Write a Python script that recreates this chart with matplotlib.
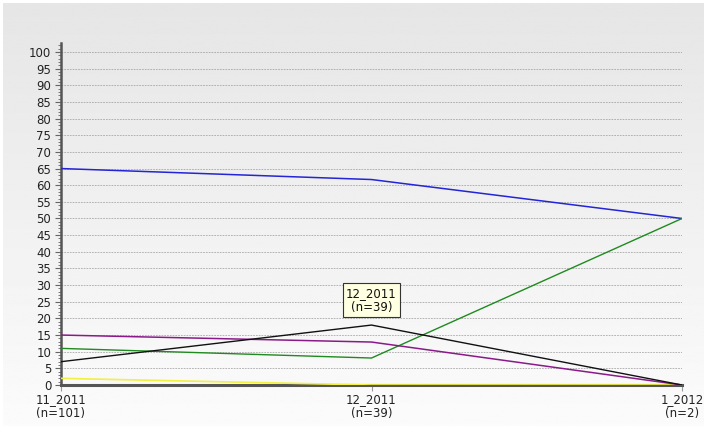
import numpy as np
import matplotlib.pyplot as plt
from matplotlib.ticker import MultipleLocator

periods = ['11_2011\n(n=101)', '12_2011\n(n=39)', '1_2012\n(n=2)']
blue = [65, 61.7, 50]
green = [11, 8.1, 50]
black = [7, 18, 0]
purple = [15, 12.9, 0]
yellow = [2, 0, 0]

W, H = 718, 441
fig = plt.figure(figsize=(W / 100, H / 100), dpi=100)
fig.patch.set_facecolor('white')

# grey gradient panel behind the chart
bg = fig.add_axes([3 / W, 1 - 426 / H, 700 / W, 423 / H])
grad = np.linspace(0.90, 0.985, 256).reshape(-1, 1)
bg.imshow(grad, aspect='auto', cmap='gray', vmin=0, vmax=1, extent=[0, 1, 0, 1], origin='upper')
bg.axis('off')

ax = fig.add_axes([61 / W, 1 - 385 / H, 621 / W, 342 / H])
ax.patch.set_alpha(0)
x = np.arange(len(periods))

ax.plot(x, yellow, color='#f2f040', lw=1.2, zorder=3)
ax.plot(x, blue, color='#2424d8', lw=1.1, zorder=4)
ax.plot(x, green, color='#1f8a1f', lw=1.0, zorder=4)
ax.plot(x, purple, color='#8a1a8a', lw=1.1, zorder=4)
ax.plot(x, black, color='#111111', lw=1.0, zorder=4)

ax.set_xlim(0, 2)
ax.set_ylim(0, 102.7)
ax.yaxis.set_major_locator(MultipleLocator(5))
ax.yaxis.set_minor_locator(MultipleLocator(1))
ax.set_yticks(np.arange(0, 101, 5))
ax.grid(axis='y', which='major', color='#9a9a9a', ls=(0, (2.5, 1.5)), lw=0.5)
ax.set_xticks(x)
ax.set_xticklabels(periods, fontsize=8.5, color='#222222', linespacing=1.1)
ax.tick_params(axis='y', which='major', length=4, width=0.8, color='#666666',
               labelsize=8.5, labelcolor='#222222', pad=3)
ax.tick_params(axis='y', which='minor', length=2, width=0.6, color='#666666')
ax.tick_params(axis='x', length=4, width=0.8, color='#999999', pad=2)

for s in ['top', 'right']:
    ax.spines[s].set_visible(False)
ax.spines['left'].set_color('#555555')
ax.spines['left'].set_linewidth(1.8)
ax.spines['bottom'].set_color('#555555')
ax.spines['bottom'].set_linewidth(2.2)

# tooltip box
ax.annotate('12_2011\n(n=39)', xy=(1, 25.5), ha='center', va='center', fontsize=8.5,
            color='#111111', linespacing=1.1,
            bbox=dict(boxstyle='square,pad=0.3', fc='#ffffe1', ec='#333333', lw=0.8),
            zorder=6)

fig.savefig('out.png', dpi=100)
